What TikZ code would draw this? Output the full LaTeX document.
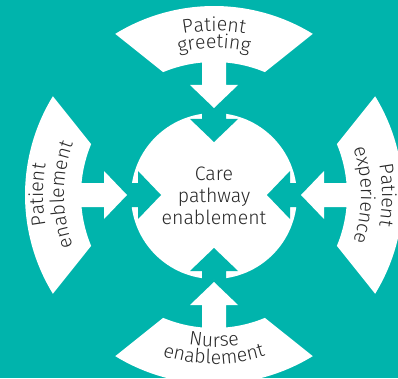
\documentclass[tikz,border=0pt]{standalone}
\usepackage{fontspec}
\setmainfont{Fira Sans}[UprightFont=* Light]
\usepackage{xcolor}
\usepackage{tikz}
\usetikzlibrary{calc}
\usetikzlibrary{decorations.text}
\definecolor{pathteal}{RGB}{0,180,172}
\definecolor{ink}{RGB}{40,40,40}
\colorlet{bandwhite}{white}
\newcommand\bandfont{\fontsize{19.5}{19.5}\selectfont}
\newcommand\hubfont{\fontsize{19.5}{22}\selectfont}
\tikzstyle{band}=[fill=bandwhite]
\tikzstyle{inarrow}=[fill=bandwhite]
\tikzstyle{hubarrow}=[fill=pathteal]
\tikzstyle{hub}=[circle,fill=white,minimum size=166pt,inner sep=0pt,align=center,text=ink,font=\hubfont]
% one line of text along an arc round the hub
\newcommand\bandline[4]{%
  \path[decorate,decoration={text along path,text align=center,
    text={|\bandfont\color{ink}|#4}}]
    ($(c)+(#2:#1)$) arc[start angle=#2,end angle=#3,radius=#1];}

\begin{document}
\begin{tikzpicture}[x=1pt,y=1pt]
	\useasboundingbox (0,0) rectangle (398,378);
	\clip (0,0) rectangle (398,378);
	\fill[pathteal] (0,0) rectangle (398,378);
	\coordinate (c) at (214,183);
	\foreach \a in {90,180,270,0} {
		\fill[band] ($(c)+(\a+31.5:189)$) arc[start angle=\a+31.5,end angle=\a-31.5,radius=189]
			-- ($(c)+(\a-22.5:133)$) arc[start angle=\a-22.5,end angle=\a+22.5,radius=133] -- cycle;
		\begin{scope}[shift={(c)},rotate=\a]
			\fill[inarrow] (145,-12) -- (110,-12) -- (110,-24) -- (87,0) -- (110,24) -- (110,12) -- (145,12) -- cycle;
		\end{scope}
	}
	\node[hub] (care) at ($(c)+(0,-1)$) {Care\\pathway\\enablement};
	\foreach \a in {90,180,270,0} {
		\begin{scope}[shift={(c)},rotate=\a]
			\fill[hubarrow] (84,-12) -- (76,-12) -- (76,-24) -- (53,0) -- (76,24) -- (76,12) -- (84,12) -- cycle;
		\end{scope}
	}
	\bandline{164}{125}{55}{Patient}
	\bandline{147}{125}{55}{greeting}
	\bandline{171}{215}{145}{Patient}
	\bandline{150}{215}{145}{enablement}
	\bandline{168}{35}{-35}{Patient}
	\bandline{147}{35}{-35}{experience}
	\bandline{152}{235}{305}{Nurse}
	\bandline{169}{235}{305}{enablement}
\end{tikzpicture}
\end{document}
